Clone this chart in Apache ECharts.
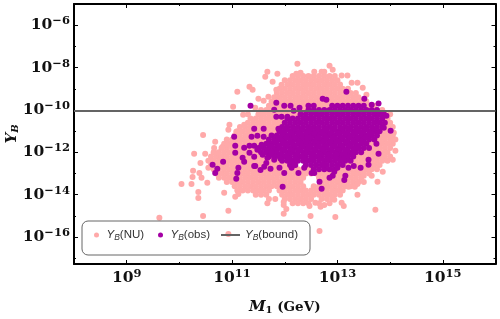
<!DOCTYPE html>
<html><head><meta charset="utf-8">
<style>html,body{margin:0;padding:0;background:#fff}#c{width:500px;height:319px}</style>
<script src="https://cdn.jsdelivr.net/npm/echarts@6/dist/echarts.min.js"></script>
</head><body><div id="c"></div>
<script>
// All values are log10 of (M1 / GeV) and log10 of Y_B.
const xMajor = [9, 11, 13, 15];
const xMinor = [10, 12, 14];
const yMajor = [-16, -14, -12, -10, -8, -6];
const yMinor = [-17, -15, -13, -11, -9, -7];
const xLimits = [8, 16];
const yLimits = [-17.27, -5];
const boundValue = -10.05;

const nuRows = [
[-8.4,[12.15,12.25,12.35,12.45,12.55,12.65,12.75,12.85,12.95]],
[-8.6,[12.0,12.1,12.2,12.3,12.4,12.5,12.6,12.7,12.8,12.9,13.0]],
[-8.8,[12.05,12.15,12.25,12.35,12.45,12.55,12.65,12.75,12.85,12.95,13.05]],
[-9.0,[11.9,12.0,12.1,12.2,12.3,12.4,12.5,12.6,12.7,12.8,12.9,13.0,13.1,13.2]],
[-9.2,[11.85,11.95,12.05,12.15,12.25,12.35,12.45,12.55,12.65,12.75,12.85,12.95,13.05,13.15,13.25,13.35]],
[-9.4,[11.8,11.9,12.0,12.1,12.2,12.3,12.4,12.5,12.6,12.7,12.8,12.9,13.0,13.1,13.2,13.3,13.4]],
[-9.6,[11.75,11.85,11.95,12.05,12.15,12.25,12.35,12.45,12.55,12.65,12.75,12.85,12.95,13.05,13.15,13.25,13.35,13.45,13.55]],
[-9.8,[11.7,11.8,11.9,12.0,12.1,12.2,12.3,12.4,12.5,12.6,12.7,12.8,13.6,13.7]],
[-10.0,[11.55,11.65,11.75,11.85,11.95,12.05,12.15,12.25,12.35,12.45,13.75,13.85]],
[-10.2,[11.5,11.6,11.7,11.8,11.9,12.0,12.1,12.2,12.3,13.9,14.0]],
[-10.4,[11.35,11.45,11.55,11.65,11.75,11.85,11.95,12.05,13.85,13.95]],
[-10.6,[11.3,11.4,11.5,11.6,11.7,11.8,11.9,12.0,13.9,14.0]],
[-10.8,[11.15,11.25,11.35,11.45,11.55,11.65,11.75,11.85,11.95,13.85,13.95,14.05]],
[-11.0,[11.1,11.2,11.3,11.4,11.5,11.6,11.7,11.8,11.9,13.8,13.9,14.0]],
[-11.2,[11.05,11.15,11.25,11.35,11.45,11.55,11.65,11.75,11.85,13.75,13.85,13.95,14.05]],
[-11.4,[10.9,11.0,11.1,11.2,11.3,11.4,11.5,11.6,11.7,13.7,13.8,13.9,14.0,14.1]],
[-11.6,[10.85,10.95,11.05,11.15,11.25,11.35,11.45,11.55,11.65,13.65,13.75,13.85,13.95,14.05]],
[-11.8,[10.8,10.9,11.0,11.1,11.2,11.3,11.4,11.5,13.6,13.7,13.8,13.9,14.0]],
[-12.0,[10.65,10.75,10.85,10.95,11.05,11.15,11.25,11.35,11.45,11.55,13.45,13.55,13.65,13.75,13.85,13.95]],
[-12.2,[10.6,10.7,10.8,10.9,11.0,11.1,11.2,11.3,11.4,11.5,11.6,11.7,13.3,13.4,13.5,13.6,13.7,13.8,13.9,14.0]],
[-12.4,[10.55,10.65,10.75,10.85,10.95,11.05,11.15,11.25,11.35,11.45,11.55,11.65,11.75,11.85,13.25,13.35,13.45,13.55,13.65,13.75,13.85,13.95]],
[-12.6,[10.6,10.7,10.8,10.9,11.0,11.1,11.2,11.3,11.4,11.5,11.6,11.7,11.8,11.9,12.0,12.1,13.1,13.2,13.3,13.4,13.5,13.6,13.7,13.8]],
[-12.8,[10.65,10.75,10.85,10.95,11.05,11.15,11.25,11.35,11.45,11.55,11.65,11.75,11.85,11.95,12.05,12.15,12.25,12.35,12.45,12.55,13.05,13.15,13.25,13.35,13.45,13.55,13.65,13.75]],
[-13.0,[10.7,10.8,10.9,11.0,11.1,11.2,11.3,11.4,11.5,11.6,11.7,11.8,11.9,12.0,12.1,12.2,12.3,12.4,12.5,12.6,12.7,12.8,12.9,13.0,13.1,13.2,13.3,13.4,13.5,13.6]],
[-13.2,[10.75,10.85,10.95,11.05,11.15,11.25,11.35,11.45,11.55,11.65,11.75,11.85,11.95,12.05,12.15,12.25,12.35,12.65,12.75,12.85,12.95,13.05,13.15,13.25,13.35,13.45]],
[-13.4,[10.9,11.0,11.1,11.2,11.3,11.4,11.5,11.6,11.7,11.8,11.9,12.0,12.1,12.2,12.3,12.7,12.8,12.9,13.0,13.1,13.2,13.3,13.4,13.5]],
[-13.6,[11.05,11.15,11.25,11.35,11.45,11.55,11.65,11.75,11.85,11.95,12.05,12.15,12.25,12.35,12.55,12.65,12.75,12.85,12.95,13.05,13.15,13.25]],
[-13.8,[11.1,11.2,11.3,11.4,11.5,11.6,11.7,11.9,12.0,12.1,12.2,12.3,12.4,12.5,12.6,12.7,12.8,12.9,13.0,13.1]],
[-14.0,[11.45,11.55,11.65,11.95,12.05,12.15,12.25,12.35,12.45,12.55,12.65,12.75,12.85,12.95,13.05]],
[-14.2,[11.7,12.0,12.1,12.2,12.3,12.4,12.5,12.7,12.8,12.9]],
[-14.4,[12.15,12.25,12.35,12.45,12.65,12.85]]
];
const nuLone = [
[11.10,-9.14],[11.02,-9.85],[10.95,-10.70],[10.93,-10.94],[10.45,-11.18],[10.68,-11.5],[10.28,-12.07],[10.49,-12.07],
[10.66,-11.8],[10.74,-12.02],[10.82,-11.74],[10.91,-11.64],[11.08,-11.03],[11.21,-10.23],[11.23,-10.70],[10.04,-13.49],
[10.23,-13.49],[10.53,-13.44],[10.36,-13.87],[10.36,-14.15],[10.45,-15.0],[9.62,-15.09],[10.93,-14.76],[10.93,-15.85],
[11.06,-14.1],[10.85,-13.91],[11.12,-13.97],[10.26,-12.87],[10.25,-13.16],[10.38,-12.97],[10.40,-12.5],[10.42,-13.2],[10.55,-12.73],
[12.24,-7.82],[12.85,-7.91],[12.30,-8.24],[12.22,-8.29],[12.56,-8.2],[12.70,-8.2],[12.75,-8.2],[12.91,-8.1],[11.67,-8.2],
[11.86,-8.29],[11.63,-8.43],[13.08,-8.38],[13.19,-8.38],[11.77,-8.67],[13.27,-8.72],[13.38,-8.72],[13.48,-8.95],[13.55,-9.28],
[11.33,-8.9],[11.39,-9.05],[11.94,-8.81],[11.84,-9.05],[11.5,-9.47],[11.6,-9.57],[11.69,-9.38],[11.44,-9.9],[11.3,-10.2],
[14.10,-11.93],[14.05,-12.35],[13.86,-12.92],[13.76,-13.39],[13.5,-13.11],[13.65,-13.11],[13.38,-13.5],[14.03,-11.41],[14.07,-11.08],
[11.67,-14.4],[11.82,-14.2],[11.98,-14.48],[11.98,-14.34],[12.03,-14.67],[11.98,-14.9],[12.47,-14.53],[12.49,-15],
[12.58,-14.38],[12.75,-14.48],[12.94,-14.24],[13.08,-14.38],[13.12,-14.53],[12.96,-15.05],[13.72,-14.71],[13.38,-14.0],[13.33,-13.63],
[13.21,-13.63],[12.66,-15.71],[12.68,-14.57]
];
const obsRows = [
[-9.8,[12.45,12.55,12.9,13.0,13.1,13.2,13.3,13.4,13.5]],
[-10.0,[12.45,12.55,12.65,12.75,12.85,12.95,13.05,13.15,13.25,13.35,13.45,13.55,13.65,13.75]],
[-10.2,[12.3,12.4,12.5,12.6,12.7,12.8,12.9,13.0,13.1,13.2,13.3,13.4,13.5,13.6,13.7,13.8,13.88]],
[-10.4,[12.05,12.15,12.25,12.35,12.45,12.55,12.65,12.75,12.85,12.95,13.05,13.15,13.25,13.35,13.45,13.55,13.65,13.75,13.85]],
[-10.6,[12.0,12.1,12.2,12.3,12.4,12.5,12.6,12.7,12.8,12.9,13.0,13.1,13.2,13.3,13.4,13.5,13.6,13.7,13.8,13.9]],
[-10.8,[11.95,12.05,12.15,12.25,12.35,12.45,12.55,12.65,12.75,12.85,12.95,13.05,13.15,13.25,13.35,13.45,13.55,13.65,13.75,13.85]],
[-11.0,[11.9,12.0,12.1,12.2,12.3,12.4,12.5,12.6,12.7,12.8,12.9,13.0,13.1,13.2,13.3,13.4,13.5,13.6,13.7,13.8]],
[-11.2,[11.75,11.85,11.95,12.05,12.15,12.25,12.35,12.45,12.55,12.65,12.75,12.85,12.95,13.05,13.15,13.25,13.35,13.45,13.55,13.65,13.75]],
[-11.4,[11.7,11.8,11.9,12.0,12.1,12.2,12.3,12.4,12.5,12.6,12.7,12.8,12.9,13.0,13.1,13.2,13.3,13.4,13.5,13.6,13.7]],
[-11.6,[11.65,11.75,11.85,11.95,12.05,12.15,12.25,12.35,12.45,12.55,12.65,12.75,12.85,12.95,13.05,13.15,13.25,13.35,13.45,13.55]],
[-11.8,[11.5,11.6,11.7,11.8,11.9,12.0,12.1,12.2,12.3,12.4,12.5,12.6,12.7,12.8,12.9,13.0,13.1,13.2,13.3,13.4,13.5,13.6]],
[-12.0,[11.55,11.65,11.75,11.85,11.95,12.05,12.15,12.25,12.35,12.45,12.55,12.65,12.75,12.85,12.95,13.05,13.15,13.25,13.35,13.45]],
[-12.2,[11.7,11.8,11.9,12.0,12.1,12.2,12.3,12.4,12.5,12.6,12.7,12.8,12.9,13.0,13.1,13.2,13.3]],
[-12.4,[11.95,12.05,12.15,12.25,12.35,12.45,12.55,12.65,12.75,12.85,12.95,13.05,13.15,13.25]],
[-12.6,[12.1,12.2,12.4,12.5,12.6,12.7,12.8,12.9,13.0,13.1]],
[-12.8,[12.55,12.65,12.75,12.85,12.95]],
// second pass through the densest part of the cloud
[-10.9,[12.03,12.18,12.33,12.48,12.63,12.78,12.93,13.08,13.23,13.38,13.53,13.68]],
[-11.1,[11.97,12.12,12.27,12.42,12.57,12.72,12.87,13.02,13.17,13.32,13.47,13.62]],
[-11.3,[11.88,12.03,12.18,12.33,12.48,12.63,12.78,12.93,13.08,13.23,13.38,13.53]],
[-11.5,[11.82,11.97,12.12,12.27,12.42,12.57,12.72,12.87,13.02,13.17,13.32,13.47]],
[-11.7,[11.73,11.88,12.03,12.18,12.33,12.48,12.63,12.78,12.93,13.08,13.23,13.38]],
[-11.9,[11.67,11.82,11.97,12.12,12.27,12.42,12.57,12.72,12.87,13.02,13.17,13.32]],
[-12.1,[11.78,11.93,12.08,12.23,12.38,12.53,12.68,12.83,12.98,13.13,13.28]],
[-12.3,[11.92,12.07,12.22,12.37,12.52,12.67,12.82,12.97,13.12]]
];
const obsLone = [
[13.17,-9.14],[12.72,-9.47],[12.79,-9.52],[11.35,-9.8],[11.84,-9.66],[11.99,-9.8],[12.11,-9.8],[12.28,-9.9],[12.17,-10.04],[11.8,-9.99],
[11.84,-10.32],[11.94,-10.32],[12.05,-10.32],[11.42,-10.89],[11.6,-10.89],[11.88,-10.89],[11.04,-11.27],[11.37,-11.27],[11.48,-11.22],[11.6,-11.27],
[11.06,-11.69],[11.06,-12.02],[10.83,-12.45],[10.63,-12.59],[10.72,-12.78],[10.68,-12.97],[11.12,-12.73],[11.08,-13.25],[11.1,-12.97],[11.2,-12.26],
[11.23,-12.45],[11.42,-12.64],[11.54,-12.83],[11.73,-12.78],[11.96,-13.63],[11.33,-12.02],[11.42,-12.21],[11.67,-12.26],[11.99,-12.97],[12.26,-12.97],
[12.51,-12.97],[12.56,-12.97],[12.66,-13.39],[12.7,-13.72],[12.91,-13.11],[12.85,-13.2],[13.13,-13.3],[13.15,-13.11],[13,-12.73],[12.94,-12.92],
[13.21,-12.73],[13.44,-12.73],[13.31,-12.64],[13.59,-12.35],[13.59,-12.59],[13.78,-12.07],[13.74,-11.6],[13.88,-10.84],[14.01,-10.98],[13.93,-10.27],
[13.78,-9.7],[13.51,-9.47],[13.65,-9.76],[11.61,-12.68],[11.44,-12.64],[11.9,-12.73],[12.13,-12.73],[11.42,-11.69],[11.56,-11.64],[11.48,-11.88],
[11.33,-11.69],[11.23,-11.78],[11.58,-12.12],[11.75,-11.98],[11.65,-12.5],[11.8,-12.35],[12.18,-12.59],[12.37,-12.73],[12.75,-12.59]
];

const toPoints = (rows, lone) => {
  const pts = [];
  rows.forEach(([y, xs]) => xs.forEach(x => pts.push([x, y])));
  return pts.concat(lone);
};
const PINK = '#ffa9a9', PURPLE = '#a400a4', GREY = '#646464';
const SERIF = '"DejaVu Serif"';
const SANS = '"Liberation Sans"';
const num = {fontFamily: SERIF, fontWeight: 'bold', fontSize: 15.5, color: '#111'};
const sup = {fontFamily: SERIF, fontWeight: 'bold', fontSize: 11.5, color: '#111', padding: [0, 0, 8, 0]};
const powLabel = v => '{n|10}{s|' + String(v).replace('-', '\u2212') + '}';

function axisSet(limits, major, minor, first, second, title) {
  const base = {type: 'value', min: limits[0], max: limits[1], splitLine: {show: false}, axisLabel: {show: false},
    axisLine: {show: false}, axisTick: {show: false}};
  const tick = (vals, len) => ({show: true, inside: true, length: len, customValues: vals, lineStyle: {color: '#000', width: 1}});
  return [
    Object.assign({}, base, {position: first,
      axisLine: {show: true, onZero: false, lineStyle: {color: '#000', width: 2}},
      axisTick: tick(major, 4),
      axisLabel: {show: true, customValues: major, margin: 4, formatter: powLabel, rich: {n: num, s: sup}},
      name: title.text, nameLocation: 'middle', nameGap: title.gap, nameMoveOverlap: false,
      nameTextStyle: {rich: title.rich, color:'#111'}
    }),
    Object.assign({}, base, {position: first, axisTick: tick(minor, 2)}),
    Object.assign({}, base, {position: second,
      axisLine: {show: true, onZero: false, lineStyle: {color: '#000', width: 2}}, axisTick: tick(major, 4)}),
    Object.assign({}, base, {position: second, axisTick: tick(minor, 2)})
  ];
}
const italicBold = {fontFamily: SERIF, fontWeight: 'bold', fontStyle: 'italic', fontSize: 15, color: '#111'};
const xTitle = {text: '{m|M}{d|1}{g| (GeV)}', gap: 36, rich: {
  m: italicBold,
  d: {fontFamily: SERIF, fontWeight: 'bold', fontSize: 10, color: '#111', padding: [5, 0, 0, 0]},
  g: {fontFamily: SERIF, fontWeight: 'bold', fontSize: 13.5, color: '#111'}}};
const yTitle = {text: '{m|Y}{d|B}', gap: 54, rich: {
  m: italicBold,
  d: Object.assign({}, italicBold, {fontSize: 10, padding: [5, 0, 0, 0]})}};

const legendRich = {
  i: {fontFamily: SANS, fontStyle: 'italic', fontSize: 11.5, color: '#333'},
  b: {fontFamily: SANS, fontStyle: 'italic', fontSize: 8.5, color: '#333', padding: [5, 0, 0, 0]},
  t: {fontFamily: SANS, fontSize: 11.5, color: '#333'}
};
const legendFor = (name, left, w, h, icon, text) => ({
  data: [{name: name, icon: icon}], left: left, top: 229, padding: 0, itemWidth: w, itemHeight: h, itemGap: 0,
  selectedMode: false, formatter: () => text,
  textStyle: {rich: legendRich, fontFamily: SANS, fontSize: 11.5, color: '#333'}
});
const N1 = 'Y_B(NU)', N2 = 'Y_B(obs)', N3 = 'Y_B(bound)';

const chart = echarts.init(document.getElementById('c'), null, {renderer: 'canvas'});
chart.setOption({
  animation: false,
  backgroundColor: '#fff',
  grid: {left: 74, right: 4.5, top: 4, bottom: 55, containLabel: false, outerBoundsMode: 'none'},
  xAxis: axisSet(xLimits, xMajor, xMinor, 'bottom', 'top', xTitle),
  yAxis: axisSet(yLimits, yMajor, yMinor, 'left', 'right', yTitle),
  legend: [
    legendFor(N1, 94, 10, 5, 'circle', '{i|Y}{b|B}{t|(NU)}'),
    legendFor(N2, 158, 10, 5, 'circle', '{i|Y}{b|B}{t|(obs)}'),
    legendFor(N3, 221, 19, 2, 'rect', '{i|Y}{b|B}{t|(bound)}')
  ],
  graphic: [{type: 'rect', x: 82, y: 221, z: 100, silent: true,
    shape: {x: 0, y: 0, width: 228, height: 34, r: 6}, style: {fill: 'none', stroke: '#666', lineWidth: 1}}],
  series: [
    {name: N1, type: 'scatter', data: toPoints(nuRows, nuLone), symbol: 'circle', symbolSize: 6,
      itemStyle: {color: PINK, opacity: 1}, z: 2, clip: true, emphasis: {disabled: true}},
    {name: N2, type: 'scatter', data: toPoints(obsRows, obsLone), symbol: 'circle', symbolSize: 6,
      itemStyle: {color: PURPLE, opacity: 1}, z: 3, clip: true, emphasis: {disabled: true}},
    {name: N3, type: 'line', data: [[xLimits[0], boundValue], [xLimits[1], boundValue]], symbol: 'none', showSymbol: false,
      lineStyle: {color: GREY, width: 2}, itemStyle: {color: GREY}, z: 4, emphasis: {disabled: true}}
  ]
});
</script></body></html>
